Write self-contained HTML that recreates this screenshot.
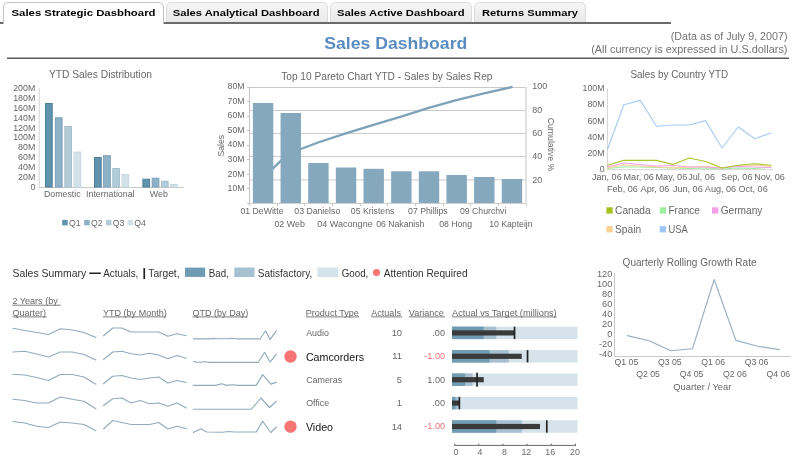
<!DOCTYPE html>
<html><head><meta charset="utf-8"><title>Sales Dashboard</title>
<style>
html,body{margin:0;padding:0;background:#fff;}
body{width:800px;height:468px;overflow:hidden;font-family:"Liberation Sans",sans-serif;}
svg{display:block;font-family:"Liberation Sans",sans-serif;will-change:transform;}
</style></head><body>
<svg width="800" height="468" viewBox="0 0 800 468">
<defs>
<linearGradient id="tabg" x1="0" y1="0" x2="0" y2="1"><stop offset="0" stop-color="#f6f6f6"/><stop offset="1" stop-color="#e9e9e9"/></linearGradient>
</defs>
<rect width="800" height="468" fill="#fff"/>

<rect x="0" y="22" width="671" height="2" fill="#6a6a6a"/>
<path d="M3.5,24 L3.5,8 Q3.5,2.5 8.5,2.5 L158.5,2.5 Q163.5,2.5 163.5,8 L163.5,24 Z" fill="#fff" stroke="none"/>
<path d="M3.5,24 L3.5,8 Q3.5,2.5 8.5,2.5 L158.5,2.5 Q163.5,2.5 163.5,8 L163.5,24" fill="none" stroke="#c2c2c2" stroke-width="1"/>
<text x="11.5" y="16.3" font-size="9.8" fill="#000" font-weight="bold" textLength="144" lengthAdjust="spacingAndGlyphs">Sales Strategic Dasbhoard</text>
<path d="M166.5,22 L166.5,8 Q166.5,2.5 171.5,2.5 L322.5,2.5 Q327.5,2.5 327.5,8 L327.5,22 Z" fill="url(#tabg)" stroke="none"/>
<path d="M166.5,22 L166.5,8 Q166.5,2.5 171.5,2.5 L322.5,2.5 Q327.5,2.5 327.5,8 L327.5,22" fill="none" stroke="#dcdcdc" stroke-width="1"/>
<text x="172.75" y="16.3" font-size="9.8" fill="#000" font-weight="bold" textLength="146.75" lengthAdjust="spacingAndGlyphs">Sales Analytical Dashboard</text>
<path d="M330.5,22 L330.5,8 Q330.5,2.5 335.5,2.5 L466.5,2.5 Q471.5,2.5 471.5,8 L471.5,22 Z" fill="url(#tabg)" stroke="none"/>
<path d="M330.5,22 L330.5,8 Q330.5,2.5 335.5,2.5 L466.5,2.5 Q471.5,2.5 471.5,8 L471.5,22" fill="none" stroke="#dcdcdc" stroke-width="1"/>
<text x="337" y="16.3" font-size="9.8" fill="#000" font-weight="bold" textLength="127.5" lengthAdjust="spacingAndGlyphs">Sales Active Dashboard</text>
<path d="M474.5,22 L474.5,8 Q474.5,2.5 479.5,2.5 L580.5,2.5 Q585.5,2.5 585.5,8 L585.5,22 Z" fill="url(#tabg)" stroke="none"/>
<path d="M474.5,22 L474.5,8 Q474.5,2.5 479.5,2.5 L580.5,2.5 Q585.5,2.5 585.5,8 L585.5,22" fill="none" stroke="#dcdcdc" stroke-width="1"/>
<text x="482" y="16.3" font-size="9.8" fill="#000" font-weight="bold" textLength="96" lengthAdjust="spacingAndGlyphs">Returns Summary</text>
<text x="324.3" y="49" font-size="16.9" fill="#5b8cc0" font-weight="bold" textLength="143" lengthAdjust="spacingAndGlyphs">Sales Dashboard</text>
<text x="670.8" y="39.5" font-size="10.6" fill="#737373" textLength="116.7" lengthAdjust="spacingAndGlyphs">(Data as of July 9, 2007)</text>
<text x="591.2" y="52.5" font-size="10.6" fill="#737373" textLength="196.3" lengthAdjust="spacingAndGlyphs">(All currency is expressed in U.S.dollars)</text>
<rect x="7" y="57.5" width="782" height="1.5" fill="#5a5a5a"/>
<text x="100.5" y="78" font-size="10.25" fill="#676767" text-anchor="middle">YTD Sales Distribution</text>
<text x="35.3" y="189.6" font-size="8.85" fill="#676767" text-anchor="end">0</text>
<text x="35.3" y="179.75" font-size="8.85" fill="#676767" text-anchor="end">20M</text>
<text x="35.3" y="169.9" font-size="8.85" fill="#676767" text-anchor="end">40M</text>
<text x="35.3" y="160.05" font-size="8.85" fill="#676767" text-anchor="end">60M</text>
<text x="35.3" y="150.2" font-size="8.85" fill="#676767" text-anchor="end">80M</text>
<text x="35.3" y="140.35" font-size="8.85" fill="#676767" text-anchor="end">100M</text>
<text x="35.3" y="130.5" font-size="8.85" fill="#676767" text-anchor="end">120M</text>
<text x="35.3" y="120.64999999999999" font-size="8.85" fill="#676767" text-anchor="end">140M</text>
<text x="35.3" y="110.8" font-size="8.85" fill="#676767" text-anchor="end">160M</text>
<text x="35.3" y="100.95" font-size="8.85" fill="#676767" text-anchor="end">180M</text>
<text x="35.3" y="91.1" font-size="8.85" fill="#676767" text-anchor="end">200M</text>
<line x1="39.2" y1="88" x2="39.2" y2="187.5" stroke="#d2d2d2" stroke-width="1" />
<line x1="39" y1="187.5" x2="184" y2="187.5" stroke="#c8c8c8" stroke-width="1" />
<rect x="45.5" y="103.5" width="6.7" height="83.5" fill="#5f93ae" stroke="#507f98" stroke-width="1"/>
<rect x="55.4" y="117.8" width="6.7" height="69.2" fill="#8db1c7" stroke="#7da0b6" stroke-width="1"/>
<rect x="64.8" y="126.5" width="6.7" height="60.5" fill="#b3ccd9" stroke="#a6c0cf" stroke-width="1"/>
<rect x="74.0" y="152.1" width="6.7" height="34.9" fill="#d3e1e9" stroke="#c8d8e2" stroke-width="1"/>
<rect x="94.5" y="157.5" width="6.7" height="29.5" fill="#5f93ae" stroke="#507f98" stroke-width="1"/>
<rect x="103.6" y="155.7" width="6.7" height="31.3" fill="#8db1c7" stroke="#7da0b6" stroke-width="1"/>
<rect x="112.75" y="168.5" width="6.7" height="18.5" fill="#b3ccd9" stroke="#a6c0cf" stroke-width="1"/>
<rect x="122.0" y="174.5" width="6.7" height="12.5" fill="#d3e1e9" stroke="#c8d8e2" stroke-width="1"/>
<rect x="142.9" y="179.2" width="6.7" height="7.8" fill="#5f93ae" stroke="#507f98" stroke-width="1"/>
<rect x="152.2" y="178.2" width="6.7" height="8.8" fill="#8db1c7" stroke="#7da0b6" stroke-width="1"/>
<rect x="161.4" y="181.2" width="6.7" height="5.8" fill="#b3ccd9" stroke="#a6c0cf" stroke-width="1"/>
<rect x="170.6" y="184.5" width="6.7" height="2.5" fill="#d3e1e9" stroke="#c8d8e2" stroke-width="1"/>
<text x="62.3" y="197" font-size="8.8" fill="#676767" text-anchor="middle">Domestic</text>
<text x="110.3" y="197" font-size="8.8" fill="#676767" text-anchor="middle">International</text>
<text x="149.7" y="197" font-size="9.2" fill="#676767" textLength="18.2" lengthAdjust="spacingAndGlyphs">Web</text>
<rect x="62.2" y="219.9" width="5.5" height="5.5" fill="#5f93ae"/>
<text x="69.0" y="225.6" font-size="8.7" fill="#676767">Q1</text>
<rect x="84.2" y="219.9" width="5.5" height="5.5" fill="#8db1c7"/>
<text x="91.0" y="225.6" font-size="8.7" fill="#676767">Q2</text>
<rect x="106" y="219.9" width="5.5" height="5.5" fill="#b3ccd9"/>
<text x="112.8" y="225.6" font-size="8.7" fill="#676767">Q3</text>
<rect x="127.4" y="219.9" width="5.5" height="5.5" fill="#d3e1e9"/>
<text x="134.20000000000002" y="225.6" font-size="8.7" fill="#676767">Q4</text>
<text x="281.2" y="79.6" font-size="10.12" fill="#676767" textLength="211.3" lengthAdjust="spacingAndGlyphs">Top 10 Pareto Chart YTD - Sales by Sales Rep</text>
<line x1="249.0" y1="203.4" x2="525.5" y2="203.4" stroke="#cacaca" stroke-width="1" />
<line x1="249.0" y1="179.9" x2="525.5" y2="179.9" stroke="#cacaca" stroke-width="1" />
<line x1="249.0" y1="156.6" x2="525.5" y2="156.6" stroke="#cacaca" stroke-width="1" />
<line x1="249.0" y1="133.4" x2="525.5" y2="133.4" stroke="#cacaca" stroke-width="1" />
<line x1="249.0" y1="110.5" x2="525.5" y2="110.5" stroke="#cacaca" stroke-width="1" />
<line x1="249.0" y1="87.5" x2="525.5" y2="87.5" stroke="#cacaca" stroke-width="1" />
<line x1="249.5" y1="87.0" x2="249.5" y2="204.0" stroke="#c4c4c4" stroke-width="1" />
<line x1="526.0" y1="87.0" x2="526.0" y2="204.0" stroke="#c4c4c4" stroke-width="1" />
<polyline points="262.82,178.20 290.48,151.60 300.80,149.00 318.12,142.50 345.77,133.40 373.43,124.80 401.07,116.60 428.73,107.80 456.38,100.20 484.02,93.30 511.68,87.20" fill="none" stroke="#7ea2b9" stroke-width="2.35" stroke-linejoin="round" stroke-linecap="round" />
<rect x="252.9" y="103" width="20.4" height="100.0" fill="#85a8bf"/>
<rect x="280.55" y="113" width="20.4" height="90.0" fill="#85a8bf"/>
<rect x="308.2" y="163" width="20.4" height="40.0" fill="#85a8bf"/>
<rect x="335.85" y="167.5" width="20.4" height="35.5" fill="#85a8bf"/>
<rect x="363.5" y="168.8" width="20.4" height="34.19999999999999" fill="#85a8bf"/>
<rect x="391.15" y="171.3" width="20.4" height="31.69999999999999" fill="#85a8bf"/>
<rect x="418.8" y="171.3" width="20.4" height="31.69999999999999" fill="#85a8bf"/>
<rect x="446.45" y="175" width="20.4" height="28.0" fill="#85a8bf"/>
<rect x="474.1" y="177" width="20.4" height="26.0" fill="#85a8bf"/>
<rect x="501.75" y="179" width="20.4" height="24.0" fill="#85a8bf"/>
<line x1="249.5" y1="204.0" x2="249.5" y2="206.0" stroke="#c4c4c4" stroke-width="1" />
<line x1="277.5" y1="204.0" x2="277.5" y2="206.0" stroke="#c4c4c4" stroke-width="1" />
<line x1="304.5" y1="204.0" x2="304.5" y2="206.0" stroke="#c4c4c4" stroke-width="1" />
<line x1="332.5" y1="204.0" x2="332.5" y2="206.0" stroke="#c4c4c4" stroke-width="1" />
<line x1="360.5" y1="204.0" x2="360.5" y2="206.0" stroke="#c4c4c4" stroke-width="1" />
<line x1="387.5" y1="204.0" x2="387.5" y2="206.0" stroke="#c4c4c4" stroke-width="1" />
<line x1="415.5" y1="204.0" x2="415.5" y2="206.0" stroke="#c4c4c4" stroke-width="1" />
<line x1="443.5" y1="204.0" x2="443.5" y2="206.0" stroke="#c4c4c4" stroke-width="1" />
<line x1="470.5" y1="204.0" x2="470.5" y2="206.0" stroke="#c4c4c4" stroke-width="1" />
<line x1="498.5" y1="204.0" x2="498.5" y2="206.0" stroke="#c4c4c4" stroke-width="1" />
<line x1="526.5" y1="204.0" x2="526.5" y2="206.0" stroke="#c4c4c4" stroke-width="1" />
<line x1="247" y1="203.4" x2="249" y2="203.4" stroke="#c4c4c4" stroke-width="1" />
<line x1="247" y1="188.5" x2="249" y2="188.5" stroke="#c4c4c4" stroke-width="1" />
<text x="244.5" y="191.1" font-size="8.7" fill="#676767" text-anchor="end">10M</text>
<line x1="247" y1="174.5" x2="249" y2="174.5" stroke="#c4c4c4" stroke-width="1" />
<text x="244.5" y="176.54999999999998" font-size="8.7" fill="#676767" text-anchor="end">20M</text>
<line x1="247" y1="159.5" x2="249" y2="159.5" stroke="#c4c4c4" stroke-width="1" />
<text x="244.5" y="162.0" font-size="8.7" fill="#676767" text-anchor="end">30M</text>
<line x1="247" y1="145.5" x2="249" y2="145.5" stroke="#c4c4c4" stroke-width="1" />
<text x="244.5" y="147.45" font-size="8.7" fill="#676767" text-anchor="end">40M</text>
<line x1="247" y1="130.5" x2="249" y2="130.5" stroke="#c4c4c4" stroke-width="1" />
<text x="244.5" y="132.9" font-size="8.7" fill="#676767" text-anchor="end">50M</text>
<line x1="247" y1="116.5" x2="249" y2="116.5" stroke="#c4c4c4" stroke-width="1" />
<text x="244.5" y="118.35" font-size="8.7" fill="#676767" text-anchor="end">60M</text>
<line x1="247" y1="101.5" x2="249" y2="101.5" stroke="#c4c4c4" stroke-width="1" />
<text x="244.5" y="103.79999999999998" font-size="8.7" fill="#676767" text-anchor="end">70M</text>
<line x1="247" y1="87.5" x2="249" y2="87.5" stroke="#c4c4c4" stroke-width="1" />
<text x="244.5" y="89.24999999999999" font-size="8.7" fill="#676767" text-anchor="end">80M</text>
<text x="532.2" y="182.75" font-size="8.95" fill="#676767">20</text>
<text x="532.2" y="159.4" font-size="8.95" fill="#676767">40</text>
<text x="532.2" y="136.04999999999998" font-size="8.95" fill="#676767">60</text>
<text x="532.2" y="112.69999999999999" font-size="8.95" fill="#676767">80</text>
<text x="532.2" y="89.35" font-size="8.95" fill="#676767">100</text>
<text transform="translate(224.3,145.7) rotate(-90)" font-size="8.7" fill="#676767" text-anchor="middle">Sales</text>
<text transform="translate(548,144.5) rotate(90)" font-size="8.7" fill="#676767" text-anchor="middle">Cumulative %</text>
<text x="262.0" y="213.8" font-size="8.7" fill="#676767" text-anchor="middle">01 DeWitte</text>
<text x="289.7" y="226.6" font-size="8.7" fill="#676767" text-anchor="middle" textLength="30.6" lengthAdjust="spacingAndGlyphs">02 Web</text>
<text x="317.3" y="213.8" font-size="8.7" fill="#676767" text-anchor="middle">03 Danielso</text>
<text x="345.0" y="226.6" font-size="8.7" fill="#676767" text-anchor="middle" textLength="55.4" lengthAdjust="spacingAndGlyphs">04 Wacongne</text>
<text x="372.6" y="213.8" font-size="8.7" fill="#676767" text-anchor="middle">05 Kristens</text>
<text x="400.3" y="226.6" font-size="8.7" fill="#676767" text-anchor="middle">06 Nakanish</text>
<text x="427.9" y="213.8" font-size="8.7" fill="#676767" text-anchor="middle">07 Phillips</text>
<text x="455.6" y="226.6" font-size="8.7" fill="#676767" text-anchor="middle">08 Hong</text>
<text x="483.2" y="213.8" font-size="8.7" fill="#676767" text-anchor="middle">09 Churchvi</text>
<text x="510.9" y="226.6" font-size="8.7" fill="#676767" text-anchor="middle">10 Kapteijn</text>
<text x="630.5" y="78" font-size="10.1" fill="#676767" textLength="97.75" lengthAdjust="spacingAndGlyphs">Sales by Country YTD</text>
<text x="604.6" y="172.1" font-size="8.8" fill="#676767" text-anchor="end">0</text>
<text x="604.6" y="155.9" font-size="8.8" fill="#676767" text-anchor="end">20M</text>
<text x="604.6" y="139.7" font-size="8.8" fill="#676767" text-anchor="end">40M</text>
<text x="604.6" y="123.5" font-size="8.8" fill="#676767" text-anchor="end">60M</text>
<text x="604.6" y="107.3" font-size="8.8" fill="#676767" text-anchor="end">80M</text>
<text x="604.6" y="91.1" font-size="8.8" fill="#676767" text-anchor="end">100M</text>
<line x1="607.5" y1="88" x2="607.5" y2="170" stroke="#d6d6d6" stroke-width="1" />
<line x1="607" y1="169.6" x2="773" y2="169.6" stroke="#d6d6d6" stroke-width="1" />
<polyline points="607.50,168.50 623.85,167.00 640.20,167.00 656.55,167.50 672.90,168.00 689.25,168.50 705.60,168.00 721.95,169.00 738.30,168.00 754.65,168.50 771.00,167.00" fill="none" stroke="#9def9d" stroke-width="1.1" stroke-linejoin="round" stroke-linecap="round" />
<polyline points="607.50,168.00 623.85,165.00 640.20,166.00 656.55,167.00 672.90,168.00 689.25,167.00 705.60,166.50 721.95,168.00 738.30,165.50 754.65,165.00 771.00,166.00" fill="none" stroke="#f8d193" stroke-width="1.1" stroke-linejoin="round" stroke-linecap="round" />
<polyline points="607.50,167.00 623.85,163.00 640.20,164.50 656.55,166.00 672.90,165.50 689.25,167.00 705.60,167.00 721.95,168.00 738.30,166.50 754.65,167.00 771.00,167.50" fill="none" stroke="#f5a0e9" stroke-width="1.1" stroke-linejoin="round" stroke-linecap="round" />
<polyline points="607.50,165.30 623.85,160.40 640.20,160.40 656.55,160.40 672.90,164.40 689.25,158.00 705.60,161.50 721.95,168.00 738.30,165.30 754.65,163.80 771.00,165.30" fill="none" stroke="#a8c62a" stroke-width="1.1" stroke-linejoin="round" stroke-linecap="round" />
<polyline points="607.50,149.30 623.85,104.70 640.20,100.40 656.55,126.30 672.90,125.00 689.25,125.00 705.60,120.60 721.95,148.00 738.30,127.00 754.65,138.70 771.00,133.00" fill="none" stroke="#a7ccf4" stroke-width="1.1" stroke-linejoin="round" stroke-linecap="round" />
<text x="606.8" y="179.5" font-size="9.1" fill="#676767" text-anchor="middle">Jan, 06</text>
<text x="622.4" y="191.5" font-size="9.1" fill="#676767" text-anchor="middle">Feb, 06</text>
<text x="638.7" y="179.5" font-size="9.1" fill="#676767" text-anchor="middle">Mar, 06</text>
<text x="655.0" y="191.5" font-size="9.1" fill="#676767" text-anchor="middle">Apr, 06</text>
<text x="671.4" y="179.5" font-size="9.1" fill="#676767" text-anchor="middle">May, 06</text>
<text x="687.8" y="191.5" font-size="9.1" fill="#676767" text-anchor="middle">Jun, 06</text>
<text x="701.6" y="179.5" font-size="9.1" fill="#676767" text-anchor="middle">Jul, 06</text>
<text x="720.5" y="191.5" font-size="9.1" fill="#676767" text-anchor="middle">Aug, 06</text>
<text x="736.8" y="179.5" font-size="9.1" fill="#676767" text-anchor="middle">Sep, 06</text>
<text x="753.1" y="191.5" font-size="9.1" fill="#676767" text-anchor="middle">Oct, 06</text>
<text x="769.5" y="179.5" font-size="9.1" fill="#676767" text-anchor="middle">Nov, 06</text>
<rect x="606.4000000000001" y="207.3" width="6.3" height="6.3" fill="#a4c322"/>
<text x="615.1" y="214.1" font-size="10.16" fill="#676767">Canada</text>
<rect x="659.7" y="207.3" width="6.3" height="6.3" fill="#9def9d"/>
<text x="668.4" y="214.1" font-size="10.16" fill="#676767">France</text>
<rect x="712.0" y="207.3" width="6.3" height="6.3" fill="#f5a0e9"/>
<text x="720.6999999999999" y="214.1" font-size="10.16" fill="#676767">Germany</text>
<rect x="606.4000000000001" y="226.10000000000002" width="6.3" height="6.3" fill="#f8d193"/>
<text x="615.1" y="232.9" font-size="10.16" fill="#676767">Spain</text>
<rect x="659.7" y="226.10000000000002" width="6.3" height="6.3" fill="#9fc7f4"/>
<text x="668.4" y="232.9" font-size="10.16" fill="#676767" textLength="19.3" lengthAdjust="spacingAndGlyphs">USA</text>
<text x="689.6" y="266" font-size="10.05" fill="#676767" text-anchor="middle">Quarterly Rolling Growth Rate</text>
<text x="612.3" y="357.3" font-size="9.2" fill="#676767" text-anchor="end">-40</text>
<text x="612.3" y="347.25" font-size="9.2" fill="#676767" text-anchor="end">-20</text>
<text x="612.3" y="337.2" font-size="9.2" fill="#676767" text-anchor="end">0</text>
<text x="612.3" y="327.15000000000003" font-size="9.2" fill="#676767" text-anchor="end">20</text>
<text x="612.3" y="317.1" font-size="9.2" fill="#676767" text-anchor="end">40</text>
<text x="612.3" y="307.05" font-size="9.2" fill="#676767" text-anchor="end">60</text>
<text x="612.3" y="297.0" font-size="9.2" fill="#676767" text-anchor="end">80</text>
<text x="612.3" y="286.95" font-size="9.2" fill="#676767" text-anchor="end">100</text>
<text x="612.3" y="276.90000000000003" font-size="9.2" fill="#676767" text-anchor="end">120</text>
<line x1="614.5" y1="273" x2="614.5" y2="356.5" stroke="#c8c8c8" stroke-width="1" />
<line x1="614" y1="356.5" x2="791" y2="356.5" stroke="#c8c8c8" stroke-width="1" />
<polyline points="627.40,335.60 649.10,340.70 670.80,350.70 692.50,348.70 714.20,279.50 735.90,340.40 757.60,346.20 779.30,349.60" fill="none" stroke="#97b0c2" stroke-width="1.15" stroke-linejoin="round" stroke-linecap="round" />
<text x="626.4" y="365.3" font-size="8.7" fill="#676767" text-anchor="middle">Q1 05</text>
<text x="648.1" y="376.5" font-size="8.7" fill="#676767" text-anchor="middle">Q2 05</text>
<text x="669.8" y="365.3" font-size="8.7" fill="#676767" text-anchor="middle">Q3 05</text>
<text x="691.5" y="376.5" font-size="8.7" fill="#676767" text-anchor="middle">Q4 05</text>
<text x="713.2" y="365.3" font-size="8.7" fill="#676767" text-anchor="middle">Q1 06</text>
<text x="734.9" y="376.5" font-size="8.7" fill="#676767" text-anchor="middle">Q2 06</text>
<text x="756.6" y="365.3" font-size="8.7" fill="#676767" text-anchor="middle">Q3 06</text>
<text x="778.3" y="376.5" font-size="8.7" fill="#676767" text-anchor="middle">Q4 06</text>
<text x="673.3" y="390" font-size="8.9" fill="#676767" textLength="58" lengthAdjust="spacingAndGlyphs">Quarter / Year</text>
<text x="12.5" y="276.9" font-size="10.35" fill="#333" textLength="73.8" lengthAdjust="spacingAndGlyphs">Sales Summary</text>
<rect x="89.3" y="272.5" width="11.5" height="1.5" fill="#222"/>
<text x="103.3" y="276.9" font-size="10.35" fill="#333" textLength="35" lengthAdjust="spacingAndGlyphs">Actuals,</text>
<rect x="143.4" y="268.1" width="1.7" height="11" fill="#222"/>
<text x="148.3" y="276.9" font-size="10.35" fill="#333" textLength="31.2" lengthAdjust="spacingAndGlyphs">Target,</text>
<rect x="185" y="267.6" width="20.2" height="9.3" fill="#6f9bb3"/>
<text x="208.8" y="276.9" font-size="10.35" fill="#333" textLength="20" lengthAdjust="spacingAndGlyphs">Bad,</text>
<rect x="234.3" y="267.5" width="20.2" height="9.5" fill="#a5c0d0"/>
<text x="257.8" y="276.9" font-size="10.35" fill="#333" textLength="54.4" lengthAdjust="spacingAndGlyphs">Satisfactory,</text>
<rect x="317.5" y="267.5" width="20.7" height="9.5" fill="#d6e3ea"/>
<text x="341.7" y="276.9" font-size="10.35" fill="#333" textLength="26.6" lengthAdjust="spacingAndGlyphs">Good,</text>
<circle cx="376.5" cy="272.5" r="3.6" fill="#f77474"/>
<text x="383.8" y="276.9" font-size="10.35" fill="#333" textLength="83.75" lengthAdjust="spacingAndGlyphs">Attention Required</text>
<text x="12.5" y="303.8" font-size="9.04" fill="#676767">2 Years (by</text>
<line x1="12.5" y1="305.2" x2="60.7" y2="305.2" stroke="#707070" stroke-width="0.9" />
<text x="12.5" y="315.5" font-size="9.04" fill="#676767">Quarter)</text>
<line x1="12.5" y1="316.9" x2="46.7" y2="316.9" stroke="#707070" stroke-width="0.9" />
<text x="103" y="315.5" font-size="9.04" fill="#676767">YTD (by Month)</text>
<line x1="103" y1="316.9" x2="166.2" y2="316.9" stroke="#707070" stroke-width="0.9" />
<text x="192.5" y="315.5" font-size="9.04" fill="#676767">QTD (by Day)</text>
<line x1="192.5" y1="316.9" x2="247.5" y2="316.9" stroke="#707070" stroke-width="0.9" />
<text x="305.8" y="315.5" font-size="9.04" fill="#676767">Product Type</text>
<line x1="305.8" y1="316.9" x2="359.0" y2="316.9" stroke="#707070" stroke-width="0.9" />
<text x="371.3" y="315.5" font-size="9.04" fill="#676767">Actuals</text>
<line x1="371.3" y1="316.9" x2="402.0" y2="316.9" stroke="#707070" stroke-width="0.9" />
<text x="408.8" y="315.5" font-size="9.04" fill="#676767">Variance</text>
<line x1="408.8" y1="316.9" x2="445.0" y2="316.9" stroke="#707070" stroke-width="0.9" />
<text x="452" y="315.5" font-size="9.04" fill="#676767" textLength="104.7" lengthAdjust="spacingAndGlyphs">Actual vs Target (millions)</text>
<line x1="452" y1="316.9" x2="556.7" y2="316.9" stroke="#707070" stroke-width="0.9" />
<polyline points="12.90,328.25 24.75,330.50 36.60,332.50 48.45,334.50 60.30,328.75 72.15,330.00 84.00,332.50 95.85,337.50" fill="none" stroke="#92abbc" stroke-width="1.15" stroke-linejoin="round" stroke-linecap="round" />
<polyline points="12.90,352.00 24.75,351.25 36.60,354.00 48.45,357.00 60.30,352.00 72.15,352.00 84.00,354.50 95.85,360.00" fill="none" stroke="#92abbc" stroke-width="1.15" stroke-linejoin="round" stroke-linecap="round" />
<polyline points="12.90,374.25 24.75,375.00 36.60,377.50 48.45,380.50 60.30,374.50 72.15,374.50 84.00,377.00 95.85,384.25" fill="none" stroke="#92abbc" stroke-width="1.15" stroke-linejoin="round" stroke-linecap="round" />
<polyline points="12.90,399.25 24.75,400.50 36.60,403.00 48.45,403.00 60.30,397.00 72.15,399.25 84.00,401.25 95.85,408.75" fill="none" stroke="#92abbc" stroke-width="1.15" stroke-linejoin="round" stroke-linecap="round" />
<polyline points="12.90,421.50 24.75,423.00 36.60,426.25 48.45,427.50 60.30,422.00 72.15,423.00 84.00,424.50 95.85,430.75" fill="none" stroke="#92abbc" stroke-width="1.15" stroke-linejoin="round" stroke-linecap="round" />
<polyline points="103.50,335.75 112.70,328.00 121.90,328.00 131.10,332.00 140.30,332.00 149.50,332.00 158.70,332.00 167.90,336.25 177.10,333.75 186.30,335.75" fill="none" stroke="#92abbc" stroke-width="1.15" stroke-linejoin="round" stroke-linecap="round" />
<polyline points="103.50,359.50 112.70,352.00 121.90,351.25 131.10,353.75 140.30,355.00 149.50,353.25 158.70,355.00 167.90,358.75 177.10,355.50 186.30,358.25" fill="none" stroke="#92abbc" stroke-width="1.15" stroke-linejoin="round" stroke-linecap="round" />
<polyline points="103.50,383.75 112.70,376.25 121.90,375.50 131.10,378.00 140.30,379.50 149.50,378.00 158.70,377.00 167.90,383.00 177.10,380.50 186.30,382.50" fill="none" stroke="#92abbc" stroke-width="1.15" stroke-linejoin="round" stroke-linecap="round" />
<polyline points="103.50,405.50 112.70,398.75 121.90,398.00 131.10,403.00 140.30,400.50 149.50,403.75 158.70,403.00 167.90,406.25 177.10,403.00 186.30,408.00" fill="none" stroke="#92abbc" stroke-width="1.15" stroke-linejoin="round" stroke-linecap="round" />
<polyline points="103.50,429.00 112.70,420.50 121.90,422.50 131.10,424.50 140.30,424.50 149.50,424.50 158.70,422.50 167.90,429.00 177.10,426.25 186.30,428.75" fill="none" stroke="#92abbc" stroke-width="1.15" stroke-linejoin="round" stroke-linecap="round" />
<polyline points="193.40,338.80 210.71,338.80 212.69,338.40 216.65,338.80 228.52,338.60 232.48,338.20 236.43,338.80 260.17,338.80 265.62,330.80 270.07,339.55 276.25,330.80" fill="none" stroke="#92abbc" stroke-width="1.15" stroke-linejoin="round" stroke-linecap="round" />
<polyline points="193.40,361.50 196.86,362.10 200.82,362.30 204.78,361.70 208.73,362.30 258.20,362.30 264.63,352.30 270.07,362.05 276.25,354.05" fill="none" stroke="#92abbc" stroke-width="1.15" stroke-linejoin="round" stroke-linecap="round" />
<polyline points="193.40,385.40 215.66,385.40 221.59,383.70 226.54,385.40 232.48,384.70 238.41,385.40 256.22,385.40 262.65,374.65 270.81,384.15 276.25,382.40" fill="none" stroke="#92abbc" stroke-width="1.15" stroke-linejoin="round" stroke-linecap="round" />
<polyline points="193.40,409.25 251.27,409.25 260.92,398.00 269.57,407.50 276.25,401.25" fill="none" stroke="#92abbc" stroke-width="1.15" stroke-linejoin="round" stroke-linecap="round" />
<polyline points="193.40,432.50 200.82,428.75 206.75,432.00 222.58,432.30 228.52,431.50 234.45,432.00 256.22,432.00 262.65,421.25 270.81,432.50 276.25,427.00" fill="none" stroke="#92abbc" stroke-width="1.15" stroke-linejoin="round" stroke-linecap="round" />
<text x="306.2" y="336.09999999999997" font-size="8.9" fill="#676767">Audio</text>
<text x="402" y="335.9" font-size="9.3" fill="#676767" text-anchor="end">10</text>
<text x="445" y="335.79999999999995" font-size="9.1" fill="#676767" text-anchor="end">.00</text>
<rect x="452" y="326.7" width="125.5" height="12.4" fill="#d6e3ea"/>
<rect x="452" y="326.7" width="44.25" height="12.4" fill="#a5c0d0"/>
<rect x="452" y="326.7" width="31.75" height="12.4" fill="#6f9bb3"/>
<rect x="452" y="330.3" width="62.5" height="5.2" fill="#3a3a3a"/>
<rect x="513.7" y="326.7" width="1.7" height="12.4" fill="#222"/>
<circle cx="290.5" cy="356.5" r="6.2" fill="#f77474"/>
<text x="305.9" y="360.8" font-size="10.7" fill="#151515">Camcorders</text>
<text x="402" y="359.3" font-size="9.3" fill="#676767" text-anchor="end">11</text>
<text x="445" y="359.2" font-size="9.1" fill="#ec7070" text-anchor="end">-1.00</text>
<rect x="452" y="350.1" width="125.5" height="12.4" fill="#d6e3ea"/>
<rect x="452" y="350.1" width="56.75" height="12.4" fill="#a5c0d0"/>
<rect x="452" y="350.1" width="37.5" height="12.4" fill="#6f9bb3"/>
<rect x="452" y="353.7" width="69.75" height="5.2" fill="#3a3a3a"/>
<rect x="526.7" y="350.1" width="1.7" height="12.4" fill="#222"/>
<text x="306.2" y="382.9" font-size="8.9" fill="#676767">Cameras</text>
<text x="402" y="382.7" font-size="9.3" fill="#676767" text-anchor="end">5</text>
<text x="445" y="382.59999999999997" font-size="9.1" fill="#676767" text-anchor="end">1.00</text>
<rect x="452" y="373.5" width="125.5" height="12.4" fill="#d6e3ea"/>
<rect x="452" y="373.5" width="20.5" height="12.4" fill="#a5c0d0"/>
<rect x="452" y="373.5" width="13" height="12.4" fill="#6f9bb3"/>
<rect x="452" y="377.1" width="31.75" height="5.2" fill="#3a3a3a"/>
<rect x="476.2" y="372.7" width="1.7" height="14.0" fill="#222"/>
<text x="306.2" y="406.3" font-size="8.9" fill="#676767">Office</text>
<text x="402" y="406.1" font-size="9.3" fill="#676767" text-anchor="end">1</text>
<text x="445" y="406.0" font-size="9.1" fill="#676767" text-anchor="end">.00</text>
<rect x="452" y="396.9" width="125.5" height="12.4" fill="#d6e3ea"/>
<rect x="452" y="396.9" width="6" height="12.4" fill="#a5c0d0"/>
<rect x="452" y="396.9" width="3.5" height="12.4" fill="#6f9bb3"/>
<rect x="452" y="400.5" width="7.5" height="5.2" fill="#3a3a3a"/>
<rect x="458.5" y="396.9" width="1.7" height="12.4" fill="#222"/>
<circle cx="290.5" cy="426.7" r="6.2" fill="#f77474"/>
<text x="305.9" y="431.0" font-size="10.7" fill="#151515">Video</text>
<text x="402" y="429.5" font-size="9.3" fill="#676767" text-anchor="end">14</text>
<text x="445" y="429.4" font-size="9.1" fill="#ec7070" text-anchor="end">-1.00</text>
<rect x="452" y="420.3" width="125.5" height="12.4" fill="#d6e3ea"/>
<rect x="452" y="420.3" width="69.75" height="12.4" fill="#a5c0d0"/>
<rect x="452" y="420.3" width="44.25" height="12.4" fill="#6f9bb3"/>
<rect x="452" y="423.9" width="88" height="5.2" fill="#3a3a3a"/>
<rect x="545.95" y="420.3" width="1.7" height="12.4" fill="#222"/>
<line x1="454.2" y1="445.4" x2="576" y2="445.4" stroke="#666" stroke-width="1" />
<rect x="454.1" y="443.7" width="1" height="1.4" fill="#666"/>
<text x="456" y="454.8" font-size="8.8" fill="#676767" text-anchor="middle">0</text>
<rect x="478.28" y="443.7" width="1" height="1.4" fill="#666"/>
<text x="480" y="454.8" font-size="8.8" fill="#676767" text-anchor="middle">4</text>
<rect x="502.46" y="443.7" width="1" height="1.4" fill="#666"/>
<text x="504.4" y="454.8" font-size="8.8" fill="#676767" text-anchor="middle">8</text>
<rect x="526.64" y="443.7" width="1" height="1.4" fill="#666"/>
<text x="526.3" y="454.8" font-size="8.8" fill="#676767" text-anchor="middle">12</text>
<rect x="550.82" y="443.7" width="1" height="1.4" fill="#666"/>
<text x="550.2" y="454.8" font-size="8.8" fill="#676767" text-anchor="middle">16</text>
<rect x="575.0" y="443.7" width="1" height="1.4" fill="#666"/>
<text x="574.9" y="454.8" font-size="8.8" fill="#676767" text-anchor="middle">20</text>
</svg></body></html>
